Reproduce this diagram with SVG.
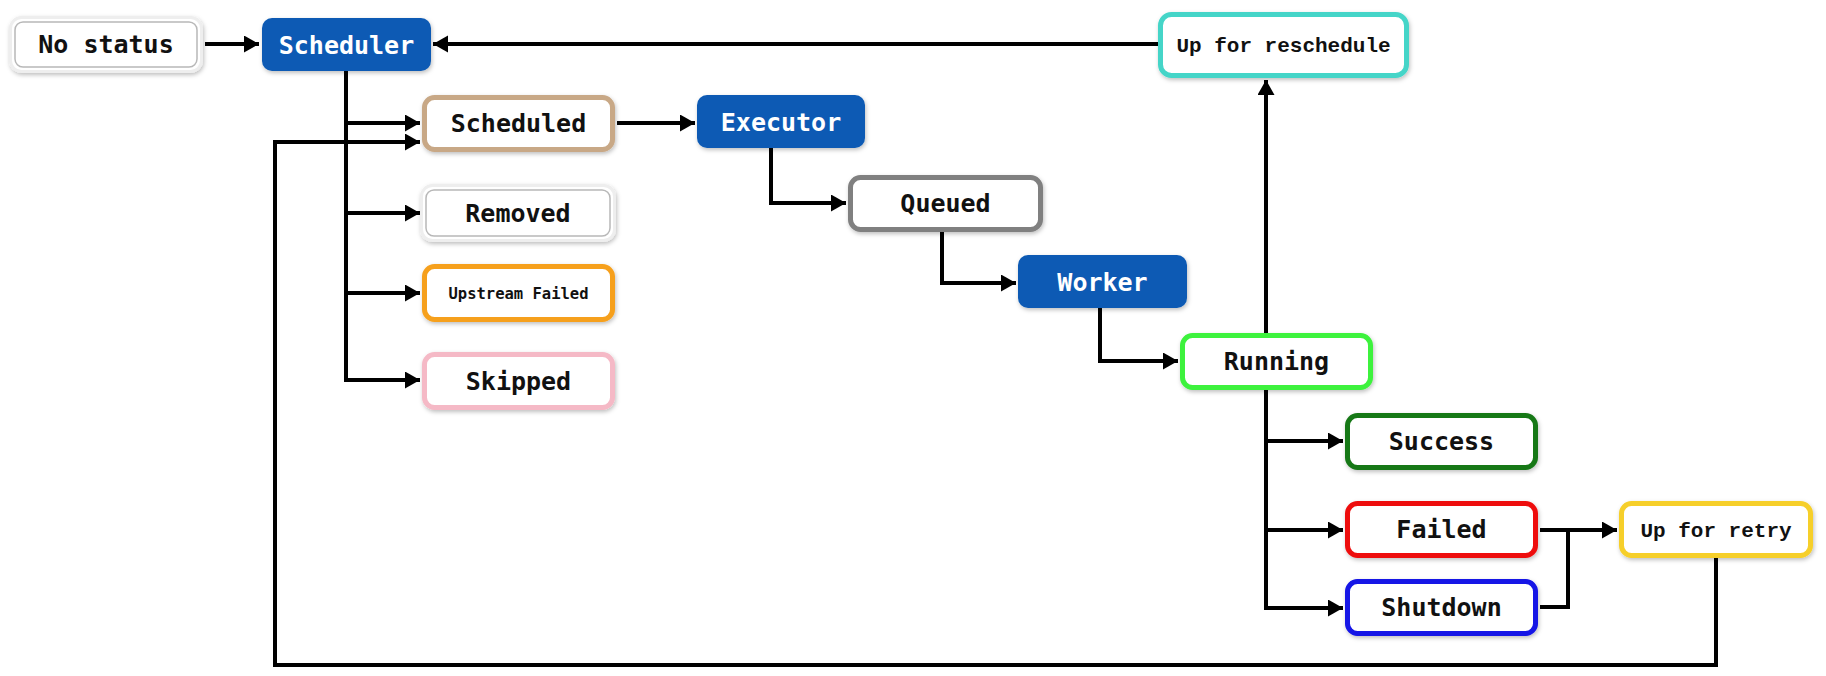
<svg xmlns="http://www.w3.org/2000/svg" width="1826" height="676" viewBox="0 0 1826 676">
<defs>
<filter id="sh" x="-10%" y="-20%" width="130%" height="160%">
<feDropShadow dx="1" dy="2" stdDeviation="2" flood-color="#000" flood-opacity="0.25"/>
</filter>
<marker id="ah" markerUnits="userSpaceOnUse" markerWidth="16" markerHeight="18" refX="15" refY="8.5" orient="auto">
<path d="M0,0 L15,8.5 L0,17 Z" fill="#000"/>
</marker>
</defs>
<style>
.box{fill:#fff;stroke-width:5;filter:url(#sh)}
.blue{fill:#0b5ab4;stroke:none;filter:url(#sh)}
.dbl{fill:#fff;stroke:#eeeeee;stroke-width:3;filter:url(#sh)}
.inner{fill:none;stroke:#b8b8b8;stroke-width:1.5}
.t{font-family:"DejaVu Sans Mono","Liberation Mono",monospace;font-weight:bold;font-size:25px;fill:#111;text-anchor:middle}
.w{fill:#fff}
.c{font-family:"Liberation Mono","DejaVu Sans Mono",monospace;font-weight:bold;font-size:21px;fill:#111;text-anchor:middle}
.s{font-size:15.5px}
.ln{fill:none;stroke:#000;stroke-width:4}
.ar{marker-end:url(#ah)}
</style>

<g id="connectors">
<path class="ln ar" d="M205,44 H259"/>
<path class="ln ar" d="M1158,44 H433"/>
<path class="ln ar" d="M346,71 V380 H420"/>
<path class="ln ar" d="M346,123 H420"/>
<path class="ln ar" d="M346,213 H420"/>
<path class="ln ar" d="M346,293 H420"/>
<path class="ln ar" d="M617,123 H695"/>
<path class="ln ar" d="M771,148 V203 H846"/>
<path class="ln ar" d="M942,231 V283 H1016"/>
<path class="ln ar" d="M1100,308 V361 H1178"/>
<path class="ln ar" d="M1266,333 V80"/>
<path class="ln ar" d="M1266,389 V608 H1343"/>
<path class="ln ar" d="M1266,441 H1343"/>
<path class="ln ar" d="M1266,530 H1343"/>
<path class="ln ar" d="M1540,530 H1617"/>
<path class="ln" d="M1540,607 H1568 V530"/>
<path class="ln ar" d="M1716,557 V665 H275 V142 H420"/>
</g>

<g id="node-nostatus">
<rect class="dbl" x="10.5" y="17.5" width="191" height="54" rx="11"/>
<rect class="inner" x="15" y="22" width="182" height="45" rx="8"/>
<text class="t" x="106" y="53">No status</text>
</g>
<g id="node-scheduler">
<rect class="blue" x="262" y="18" width="169" height="53" rx="10"/>
<text class="t w" x="346.5" y="53.5">Scheduler</text>
</g>
<g id="node-reschedule">
<rect class="box" x="1160.5" y="14.5" width="246" height="61" rx="11" stroke="#45d5c8"/>
<text class="c" x="1283.5" y="52">Up for reschedule</text>
</g>
<g id="node-scheduled">
<rect class="box" x="424.5" y="97.5" width="188" height="52" rx="10" stroke="#c8a886"/>
<text class="t" x="518.5" y="132">Scheduled</text>
</g>
<g id="node-removed">
<rect class="dbl" x="421.5" y="185.5" width="193" height="55" rx="11"/>
<rect class="inner" x="426" y="190" width="184" height="46" rx="8"/>
<text class="t" x="518" y="222">Removed</text>
</g>
<g id="node-upstream">
<rect class="box" x="424.5" y="266.5" width="188" height="53" rx="10" stroke="#f6a01e"/>
<text class="t s" x="518.5" y="298.5">Upstream Failed</text>
</g>
<g id="node-skipped">
<rect class="box" x="424.5" y="354.5" width="188" height="53" rx="10" stroke="#f5b9c6"/>
<text class="t" x="518.5" y="390">Skipped</text>
</g>
<g id="node-executor">
<rect class="blue" x="697" y="95" width="168" height="53" rx="10"/>
<text class="t w" x="781" y="130.5">Executor</text>
</g>
<g id="node-queued">
<rect class="box" x="850.5" y="177.5" width="190" height="52" rx="10" stroke="#808080"/>
<text class="t" x="945.5" y="212">Queued</text>
</g>
<g id="node-worker">
<rect class="blue" x="1018" y="255" width="169" height="53" rx="10"/>
<text class="t w" x="1102.5" y="290.5">Worker</text>
</g>
<g id="node-running">
<rect class="box" x="1182.5" y="335.5" width="188" height="52" rx="10" stroke="#3cf23c"/>
<text class="t" x="1276.5" y="370">Running</text>
</g>
<g id="node-success">
<rect class="box" x="1347.5" y="415.5" width="188" height="52" rx="10" stroke="#187818"/>
<text class="t" x="1441.5" y="450">Success</text>
</g>
<g id="node-failed">
<rect class="box" x="1347.5" y="503.5" width="188" height="52" rx="10" stroke="#ee1010"/>
<text class="t" x="1441.5" y="538">Failed</text>
</g>
<g id="node-shutdown">
<rect class="box" x="1347.5" y="581.5" width="188" height="52" rx="10" stroke="#1212e6"/>
<text class="t" x="1441.5" y="616">Shutdown</text>
</g>
<g id="node-retry">
<rect class="box" x="1621.5" y="503.5" width="189" height="52" rx="10" stroke="#f6cf2a"/>
<text class="c" x="1716" y="536.5">Up for retry</text>
</g>
</svg>
